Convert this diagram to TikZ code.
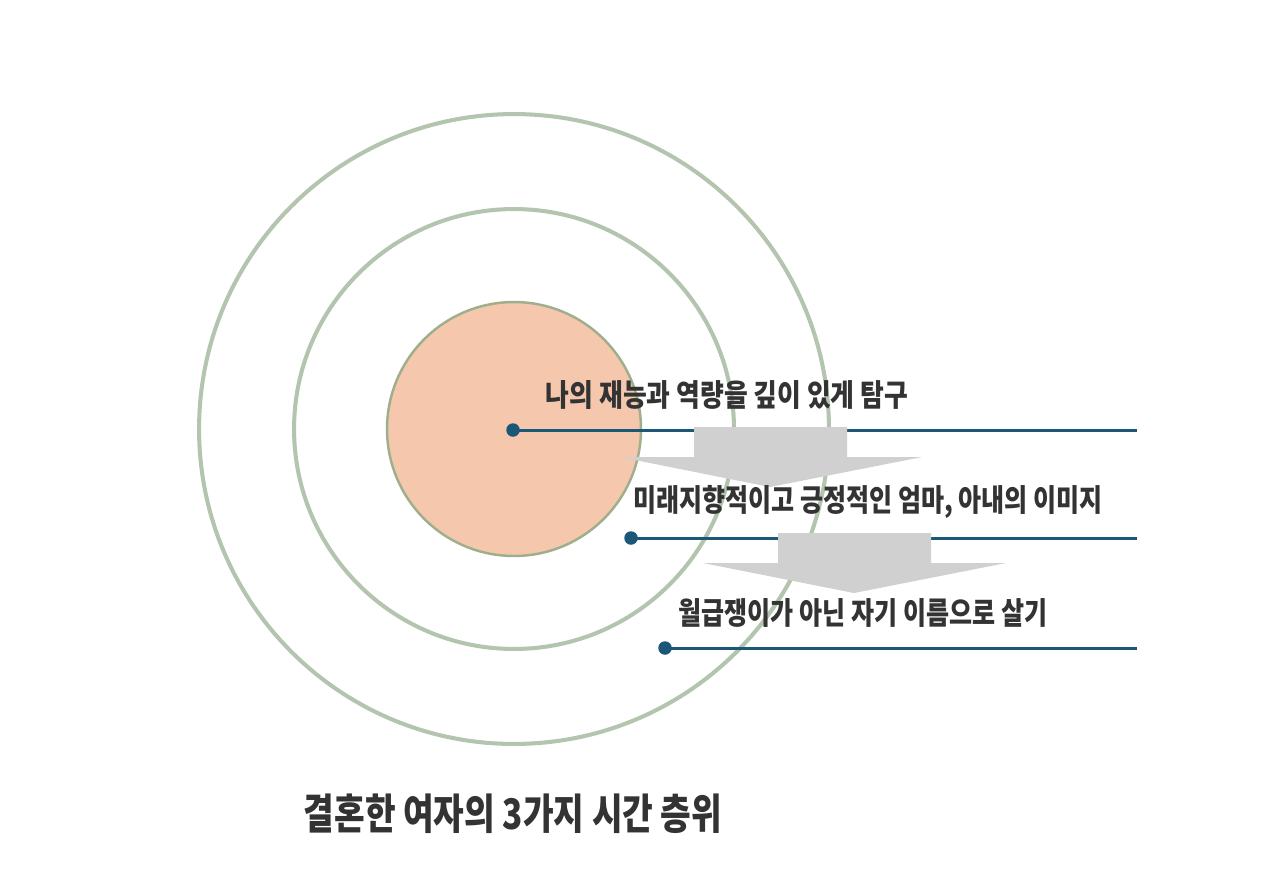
\documentclass[tikz,border=0pt]{standalone}
\usepackage{fontspec}
\newfontfamily\kofont{Noto Sans CJK KR}[FakeStretch=0.84]
\newfontfamily\konarrowfont{Noto Sans CJK KR}[FakeStretch=0.815]
\newfontfamily\kotitlefont{Noto Sans CJK KR}[FakeStretch=0.79]
\usetikzlibrary{positioning}

\definecolor{ringgreen}{HTML}{B3C5AF}
\definecolor{coreline}{HTML}{9FAE8C}
\definecolor{corefill}{HTML}{F5C8AE}
\definecolor{lineblue}{HTML}{1B5878}
\definecolor{arrowgray}{HTML}{D0D0D0}
\definecolor{labelgray}{HTML}{333333}

\begin{document}
\begin{tikzpicture}[
  x=0.02cm, y=-0.02cm,
  ring/.style={draw=ringgreen, line width=2.3pt, circle, inner sep=0pt},
  core/.style={draw=coreline, line width=1.4pt, fill=corefill, circle, inner sep=0pt},
  dot/.style={circle, fill=lineblue, inner sep=0pt, minimum size=0.27cm},
  timeline/.style={draw=lineblue, line width=1.7pt},
  flow/.style={fill=arrowgray},
  lbl/.style={font=\kofont\bfseries\fontsize{17.5}{20}\selectfont, text=labelgray, inner sep=0pt},
  lblnarrow/.style={lbl, font=\konarrowfont\bfseries\fontsize{17.5}{20}\selectfont},
  ttl/.style={font=\kotitlefont\bfseries\fontsize{24}{28}\selectfont, text=labelgray, inner sep=0pt}
]
  \useasboundingbox[fill=white] (0,0) rectangle (1280,894);

  % Rings: outer, middle, core
  \node[ring, minimum size=12.6cm] (outer) at (514,429) {};
  \node[ring, minimum size=8.8cm] (middle) at (514,429) {};
  \node[core, minimum size=5.08cm] (inner) at (514,429) {};

  % Time lines
  \node[dot] (d1) at (513,430) {};
  \node[dot] (d2) at (631,538) {};
  \node[dot] (d3) at (665,648) {};
  \coordinate (e1) at (1137,430);
  \coordinate (e2) at (1137,538);
  \coordinate (e3) at (1137,648);
  \draw[timeline] (d1.center) -- (e1);
  \draw[timeline] (d2.center) -- (e2);
  \draw[timeline] (d3.center) -- (e3);

  % Block arrows between layers
  \fill[flow, shift={(770,427)}]
    (-76,0) -- (77,0) -- (77,30) -- (152,30) -- (0,60) -- (-150,30) -- (-76,30) -- cycle;
  \fill[flow, shift={(854,533)}]
    (-76,0) -- (77,0) -- (77,30) -- (152,30) -- (0,60) -- (-151,30) -- (-76,30) -- cycle;

  % Labels
  \node[lbl] (t1) at (727,395) {나의 재능과 역량을 깊이 있게 탐구};
  \node[lblnarrow] (t2) at (868,502) {미래지향적이고 긍정적인 엄마, 아내의 이미지};
  \node[lblnarrow] (t3) at (863,613) {월급쟁이가 아닌 자기 이름으로 살기};

  \node[ttl] (title) at (513,814) {결혼한 여자의 3가지 시간 층위};
\end{tikzpicture}
\end{document}
